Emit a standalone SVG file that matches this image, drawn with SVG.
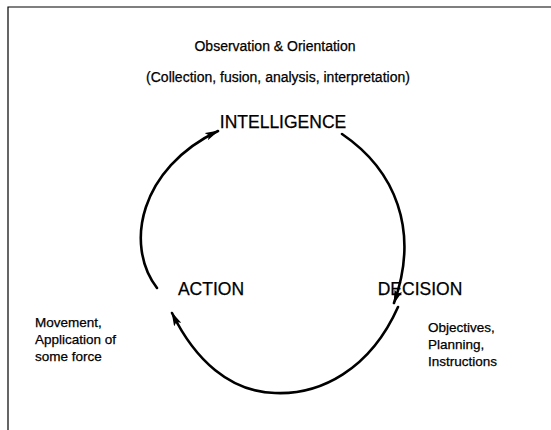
<svg xmlns="http://www.w3.org/2000/svg" width="551" height="430" viewBox="0 0 551 430">
<style>
text{font-family:"Liberation Sans",Arial,sans-serif;fill:#000;stroke:#000;stroke-width:0.25}
.t{font-size:13.5px}
.s{font-size:14px}
.h{font-size:17.5px}
.c{fill:none;stroke:#000;stroke-width:2.6;stroke-linecap:round}
</style>
<defs>
<marker id="ah" viewBox="0 0 14 8" refX="13" refY="4" markerWidth="14" markerHeight="8" markerUnits="userSpaceOnUse" orient="auto">
<path d="M0,0 L14,4 L0,8 L3,4 Z" fill="#000"/>
</marker>
</defs>
<rect width="551" height="430" fill="#fff"/>
<g id="frame" fill="none" stroke="#000" stroke-width="1.2">
<path d="M8,430 V7 H551"/>
</g>
<g id="header">
<text class="s" x="275" y="51" text-anchor="middle">Observation &amp; Orientation</text>
<text class="s" x="278" y="82" text-anchor="middle">(Collection, fusion, analysis, interpretation)</text>
</g>
<g id="intelligence"><text class="h" x="283" y="128" text-anchor="middle">INTELLIGENCE</text></g>
<g id="action">
<text class="h" x="211" y="295" text-anchor="middle">ACTION</text>
<text class="t" x="35" y="327">Movement,</text>
<text class="t" x="35" y="344">Application of</text>
<text class="t" x="35" y="361">some force</text>
</g>
<g id="decision">
<text class="h" x="420" y="295" text-anchor="middle">DECISION</text>
<text class="t" x="428" y="332">Objectives,</text>
<text class="t" x="428" y="349">Planning,</text>
<text class="t" x="428" y="366">Instructions</text>
</g>
<g id="connectors">
<path class="c" d="M157,288 C124,245 140,168 218,131" marker-end="url(#ah)"/>
<path class="c" d="M342,134 C395,170 420,230 394,303" marker-end="url(#ah)"/>
<path class="c" d="M398,307 C370,370 320,395 275,393 C230,392 195,360 172,313" marker-end="url(#ah)"/>
</g>
</svg>
